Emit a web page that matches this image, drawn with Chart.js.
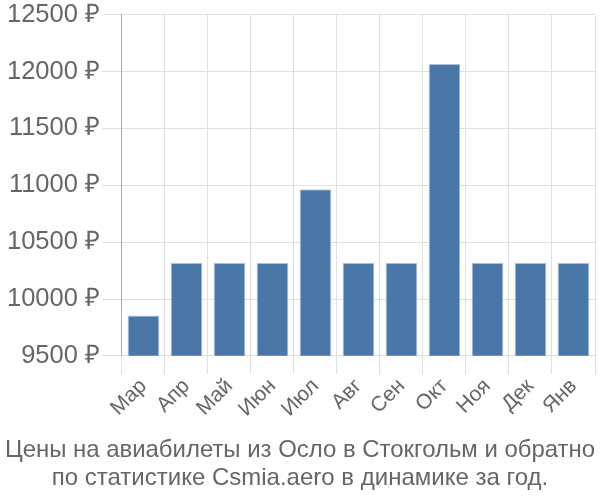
<!DOCTYPE html>
<html>
<head>
<meta charset="utf-8">
<script src="https://cdn.jsdelivr.net/npm/chart.js@4/dist/chart.umd.min.js"></script>
<style>
html,body{margin:0;padding:0;background:#fff;}
#wrap{width:600px;height:500px;}
</style>
</head>
<body>
<div id="wrap"><canvas id="c" width="600" height="500"></canvas></div>
<script>
const categories = ["Мар","Апр","Май","Июн","Июл","Авг","Сен","Окт","Ноя","Дек","Янв"];
const prices = [9856, 10318, 10318, 10318, 10965, 10318, 10318, 12068, 10318, 10318, 10318];
const yTicks = [9500, 10000, 10500, 11000, 11500, 12000, 12500];
const titleLines = ["Цены на авиабилеты из Осло в Стокгольм и обратно", "по статистике Csmia.aero в динамике за год."];

const FONT = "'Liberation Sans', Arial, sans-serif";
new Chart(document.getElementById('c'), {
  type: 'bar',
  data: {
    labels: categories,
    datasets: [{
      data: prices,
      backgroundColor: '#4a76a8',
      borderColor: '#b9cde4',
      borderWidth: 1,
      categoryPercentage: 0.74,
      barPercentage: 1.0
    }]
  },
  options: {
    responsive: false,
    animation: false,
    layout: {padding: {left: 5, right: 5, top: 0, bottom: 0}},
    plugins: {
      legend: {display: false},
      tooltip: {enabled: false},
      title: {
        display: true,
        position: 'bottom',
        text: titleLines,
        color: '#666',
        font: {family: FONT, size: 24, weight: 'normal', lineHeight: 1.17},
        padding: {top: 14, bottom: 8}
      }
    },
    scales: {
      x: {
        grid: {color: '#e0e0e0', lineWidth: 1, tickLength: 18, offset: true},
        border: {display: false},
        ticks: {color: '#666', font: {family: FONT, size: 21}, maxRotation: 45, minRotation: 45, padding: 0}
      },
      y: {
        min: 9500,
        max: 12500,
        afterBuildTicks: (axis) => { axis.ticks = yTicks.map(v => ({value: v})); },
        grid: {color: '#e0e0e0', lineWidth: 1, tickLength: 20},
        border: {display: true, color: '#aaa', width: 1},
        ticks: {color: '#666', font: {family: FONT, size: 25.5, lineHeight: 1.0}, padding: 2, callback: v => v + ' ₽'}
      }
    }
  }
});
</script>
</body>
</html>
